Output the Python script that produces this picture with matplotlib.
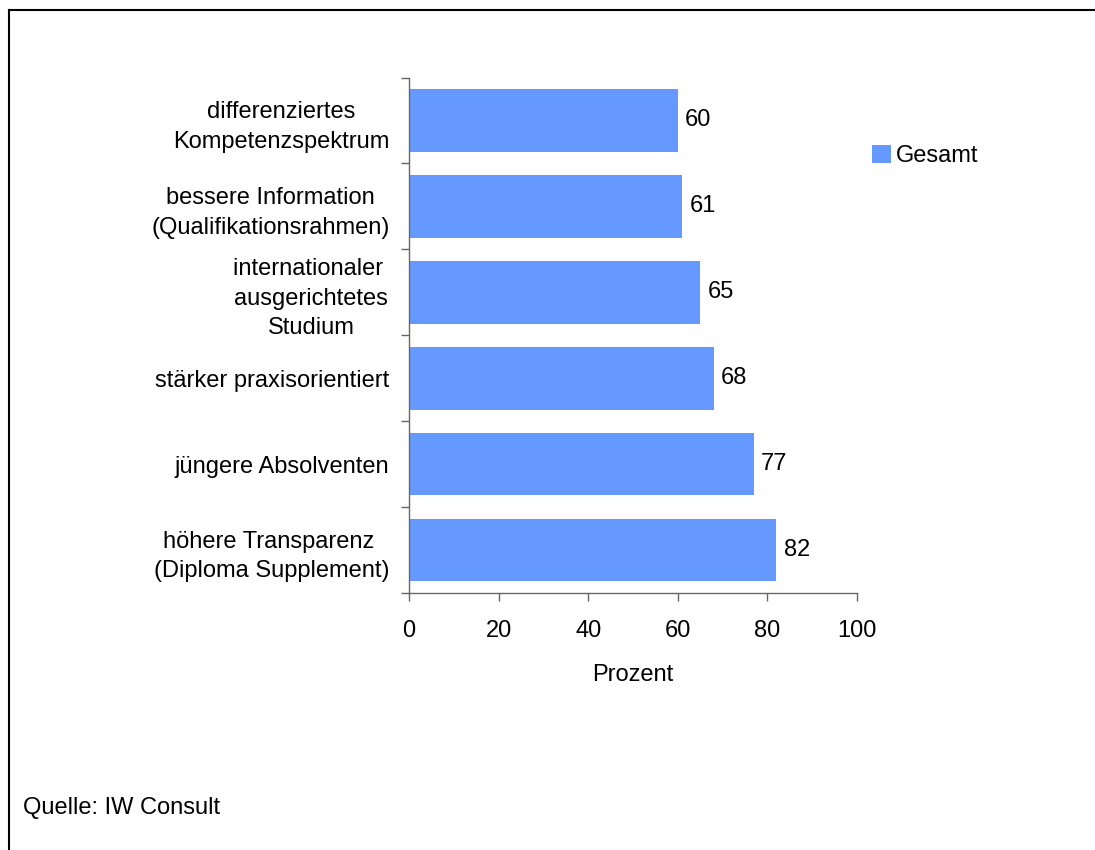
import matplotlib.pyplot as plt
from matplotlib.lines import Line2D

plt.rcParams['font.family'] = ['Liberation Sans', 'DejaVu Sans']

# bottom to top
categories = [
    'höhere Transparenz \n(Diploma Supplement)',
    'jüngere Absolventen',
    'stärker praxisorientiert',
    'internationaler \nausgerichtetes\nStudium',
    'bessere Information\n(Qualifikationsrahmen)',
    'differenziertes\nKompetenzspektrum',
]
values = [82, 77, 68, 65, 61, 60]
xticks = [0, 20, 40, 60, 80, 100]
series_name = 'Gesamt'
source = 'Quelle: IW Consult'

W, H = 1095, 850
fig = plt.figure(figsize=(W / 100, H / 100), dpi=100)
ax = fig.add_axes([409 / W, 1 - 593 / H, (857 - 409) / W, (593 - 77.5) / H])

bar_color = '#6699FF'
axis_color = '#666666'
fs = 17

pos = list(range(len(categories)))
bars = ax.barh(pos, values, height=0.73, color=bar_color, label=series_name)
for b, v in zip(bars, values):
    ax.text(b.get_width() + 1.6, b.get_y() + b.get_height() / 2, str(v),
            va='center', ha='left', fontsize=fs)

ax.set_xlim(0, 100)
ax.set_ylim(-0.5, len(categories) - 0.5)
ax.set_xticks(xticks)
ax.set_xticklabels([str(t) for t in xticks], fontsize=fs)
ax.set_yticks(pos)
ax.set_yticklabels(categories, fontsize=fs, multialignment='center', linespacing=1.45)
ax.set_yticks([p - 0.5 for p in pos] + [len(pos) - 0.5], minor=True)
ax.tick_params(axis='y', which='major', length=0, pad=14)
ax.tick_params(axis='y', which='minor', length=6, width=1, color=axis_color, direction='out')
ax.tick_params(axis='x', length=6, width=1, color=axis_color, direction='out', pad=13.5)
ax.set_xlabel('Prozent', fontsize=fs, labelpad=16)

for s in ['top', 'right']:
    ax.spines[s].set_visible(False)
for s in ['left', 'bottom']:
    ax.spines[s].set_color(axis_color)
    ax.spines[s].set_linewidth(1)

leg = fig.legend(loc='upper left', bbox_to_anchor=(860 / W, 1 - 133 / H),
                 frameon=False, fontsize=fs, handlelength=0.8, handleheight=0.8,
                 handletextpad=0.2, borderpad=0)

fig.text(23 / W, 1 - 808 / H, source, fontsize=fs, va='center', ha='left')

# outer frame (top and left edges visible)
fig.add_artist(Line2D([9 / W, 1], [1 - 10 / H, 1 - 10 / H], color='black', lw=1.5,
                      transform=fig.transFigure))
fig.add_artist(Line2D([9 / W, 9 / W], [0, 1 - 10 / H], color='black', lw=1.5,
                      transform=fig.transFigure))

fig.savefig('out.png', dpi=100)
